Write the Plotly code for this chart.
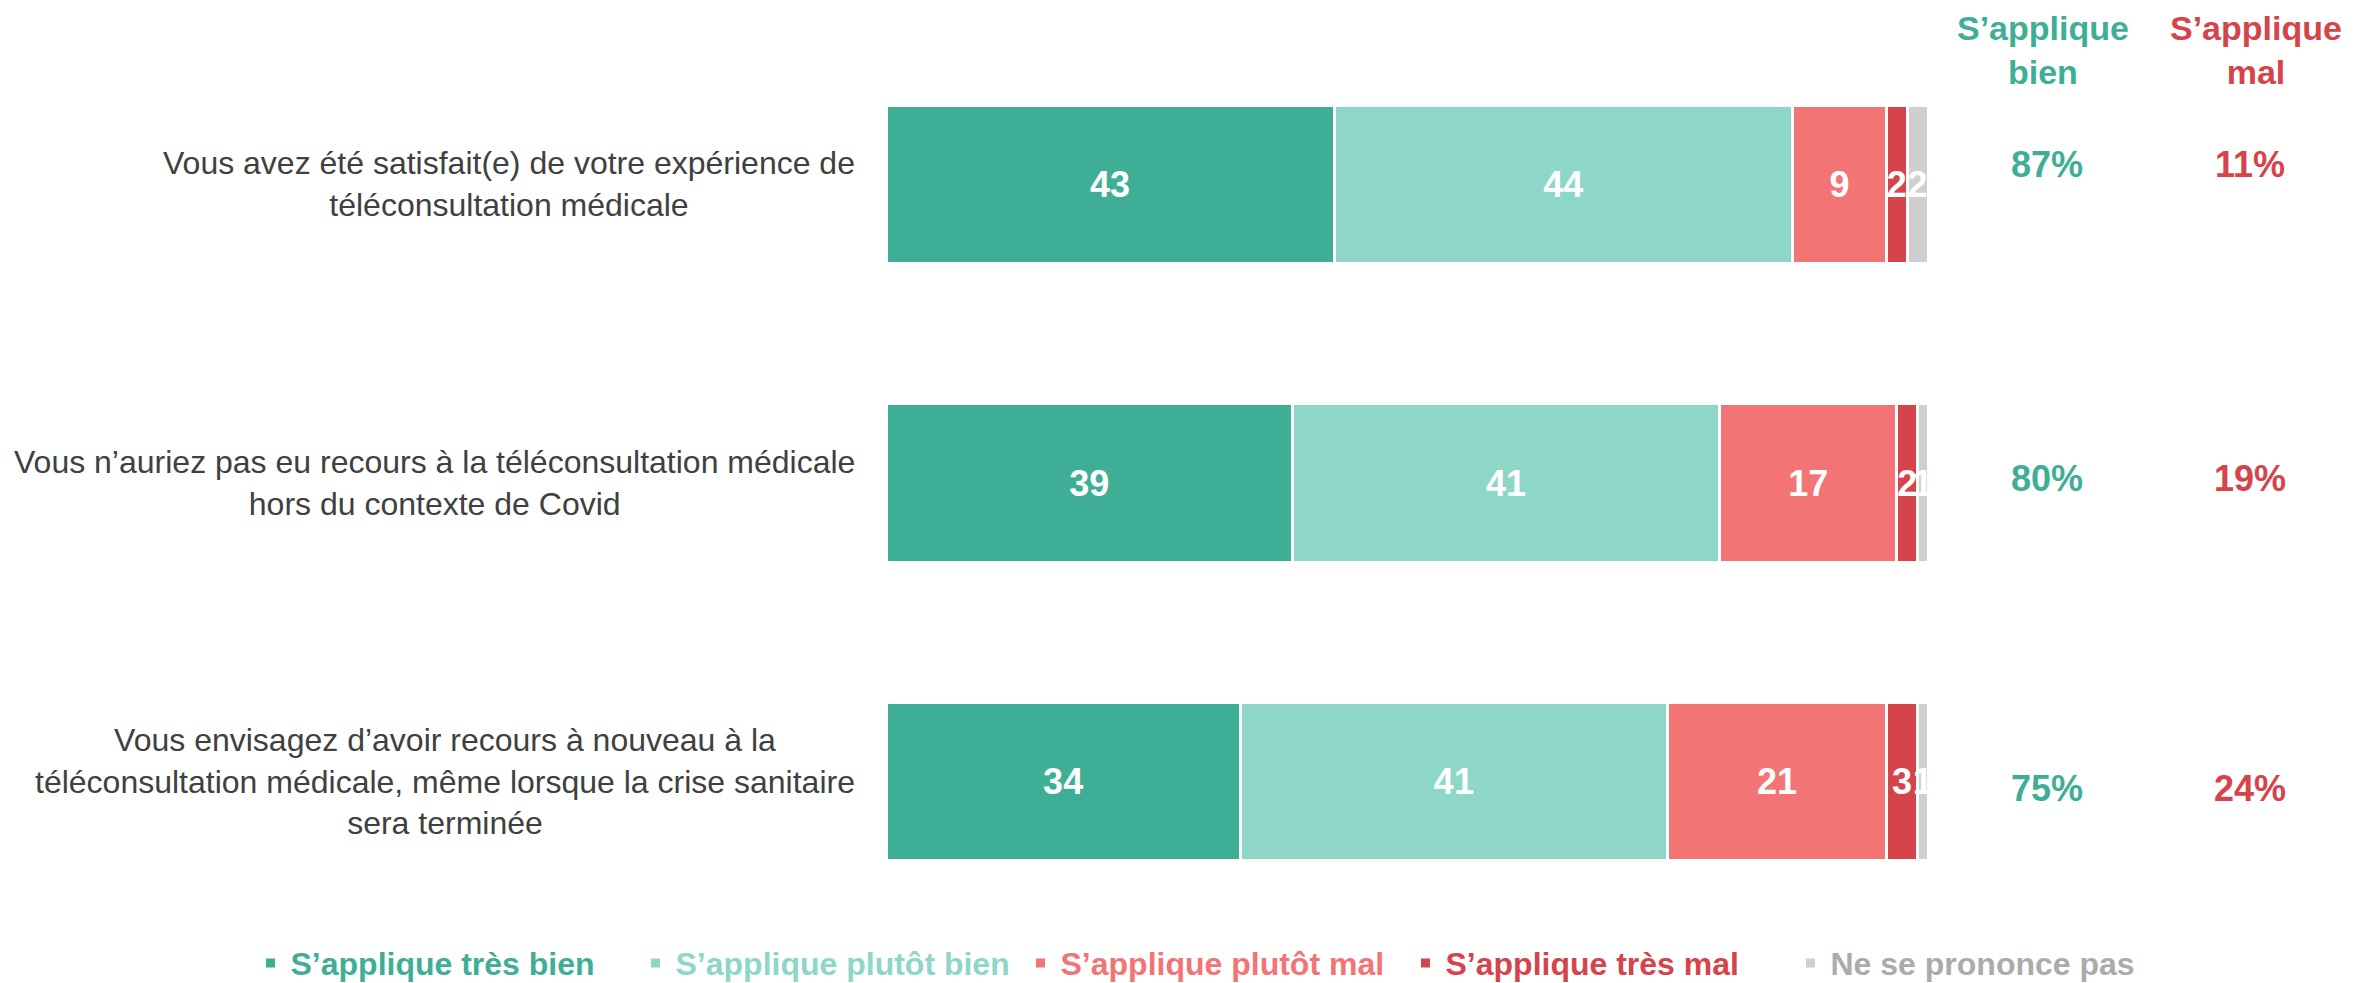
import plotly.graph_objects as go

# données
questions = [
    "Vous avez été satisfait(e) de votre expérience de<br>téléconsultation médicale",
    "Vous n’auriez pas eu recours à la téléconsultation médicale<br>hors du contexte de Covid",
    "Vous envisagez d’avoir recours à nouveau à la<br>téléconsultation médicale, même lorsque la crise sanitaire<br>sera terminée",
]
series = ["S’applique très bien", "S’applique plutôt bien", "S’applique plutôt mal", "S’applique très mal", "Ne se prononce pas"]
tres_bien = [43, 39, 34]
plutot_bien = [44, 41, 41]
plutot_mal = [9, 17, 21]
tres_mal = [2, 2, 3]
nsp = [2, 1, 1]
total_bien = ["87%", "80%", "75%"]
total_mal = ["11%", "19%", "24%"]

colors = ["#3FAE96", "#8ED7C8", "#F27475", "#D6444B", "#D0CECF"]
legend_colors = ["#3FAE96", "#8ED7C8", "#F27475", "#D6444B", "#ABABAB"]
pct_yshift = [20, 5, -7]
FONT = "Liberation Sans, Arial, sans-serif"
W, H = 2379, 983
ids = list(range(len(questions)))


def px(x): return (x - 8) / W          # la page ajoute une marge de 8 px
def py(y): return 1 - (y - 8) / H


fig = go.Figure()
for name, vals, c, lc in zip(series, [tres_bien, plutot_bien, plutot_mal, tres_mal, nsp], colors, legend_colors):
    fig.add_trace(go.Bar(
        y=ids, x=vals, orientation="h", name=f"<b><span style='color:{lc}'>{name}</span></b>",
        marker=dict(color=c, line=dict(color="white", width=3)),
        text=[str(v) for v in vals], textposition="inside", insidetextanchor="middle", textangle=0,
        textfont=dict(family=FONT, size=36, color="white", weight="bold"), cliponaxis=False,
    ))

for i, q in enumerate(questions):
    fig.add_annotation(x=px(857), xref="paper", y=i, yref="y", text=q, showarrow=False, xanchor="right",
                       align="center", font=dict(family=FONT, size=32, color="#404040"))
    fig.add_annotation(x=px(2047), xref="paper", y=i, yref="y", text=f"<b>{total_bien[i]}</b>", showarrow=False,
                       xanchor="center", yshift=pct_yshift[i], font=dict(family=FONT, size=36, color=colors[0]))
    fig.add_annotation(x=px(2250), xref="paper", y=i, yref="y", text=f"<b>{total_mal[i]}</b>", showarrow=False,
                       xanchor="center", yshift=pct_yshift[i], font=dict(family=FONT, size=36, color=colors[3]))

fig.add_annotation(x=px(2043), xref="paper", y=py(50), yref="paper", text="<b>S’applique<br>bien</b>", showarrow=False,
                   xanchor="center", yanchor="middle", font=dict(family=FONT, size=34, color=colors[0]))
fig.add_annotation(x=px(2256), xref="paper", y=py(50), yref="paper", text="<b>S’applique<br>mal</b>", showarrow=False,
                   xanchor="center", yanchor="middle", font=dict(family=FONT, size=34, color=colors[3]))

fig.update_layout(
    width=W, height=H, barmode="stack", bargap=0.47,
    plot_bgcolor="white", paper_bgcolor="white",
    margin=dict(l=0, r=0, t=0, b=0),
    uniformtext=dict(minsize=36, mode="show"),
    xaxis=dict(domain=[px(886), px(1928)], range=[0, 100], visible=False),
    yaxis=dict(domain=[py(934), py(35)], range=[2.5, -0.5], visible=False),
    legend=dict(orientation="h", x=px(1213), xanchor="center", y=py(966), yanchor="middle",
                font=dict(family=FONT, size=32), traceorder="normal",
                entrywidth=340, entrywidthmode="pixels"),
)

fig.write_html("out.html")
